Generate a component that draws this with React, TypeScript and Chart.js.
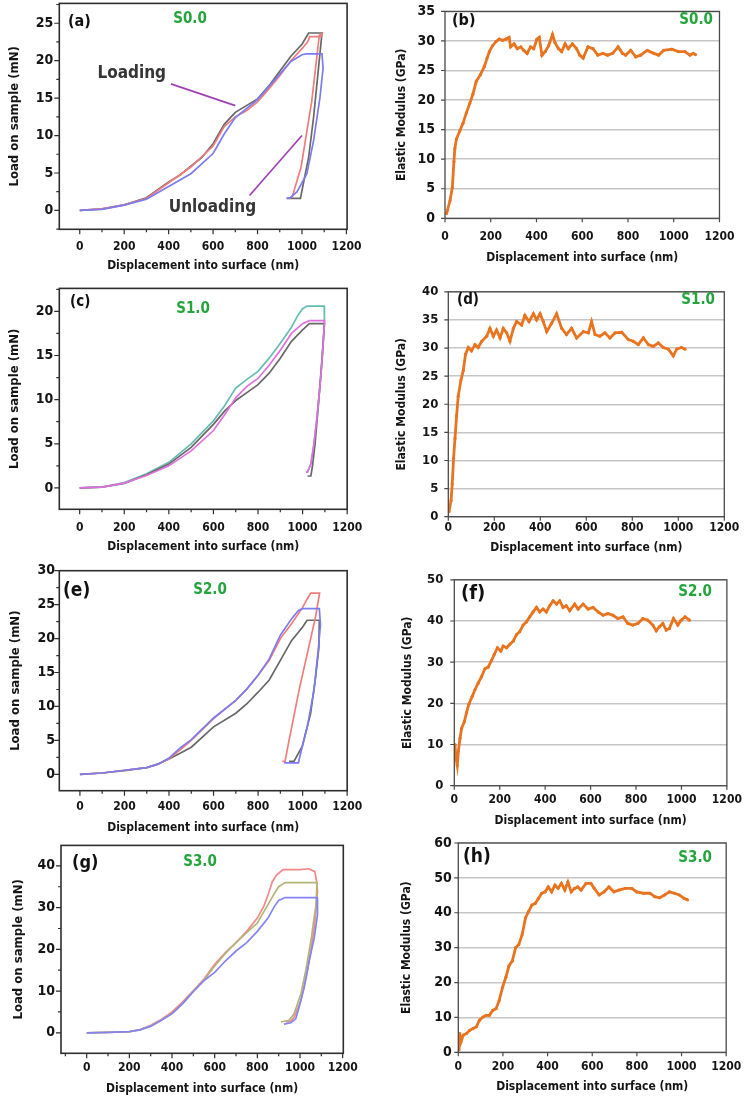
import { useEffect, useRef } from "react";
import { Chart, registerables } from "chart.js";

Chart.register(...registerables);

const FONT = '"DejaVu Sans Condensed", "DejaVu Sans", sans-serif';
const TEXT = "#151515";
const GREEN = "#23a53c";
const ORANGE = "#e9741f";
const PURPLE = "#a040b4";
const PAGE_W = 749;

// ---------- shared axis text ----------
const X_TICKS = [0, 200, 400, 600, 800, 1000, 1200];
const X_TITLE = "Displacement into surface (nm)";
const LOAD_TITLE = "Load on sample (mN)";
const MOD_TITLE = "Elastic Modulus (GPa)";

const A_Y_TICKS = [0, 5, 10, 15, 20, 25];
const B_Y_TICKS = [0, 5, 10, 15, 20, 25, 30, 35];
const C_Y_TICKS = [0, 5, 10, 15, 20];
const D_Y_TICKS = [0, 5, 10, 15, 20, 25, 30, 35, 40];
const E_Y_TICKS = [0, 5, 10, 15, 20, 25, 30];
const F_Y_TICKS = [0, 10, 20, 30, 40, 50];
const G_Y_TICKS = [0, 10, 20, 30, 40];
const H_Y_TICKS = [0, 10, 20, 30, 40, 50, 60];

// ---------- (a) S0.0 load-displacement ----------
const A_GRAY_X = [0, 100, 200, 300, 400, 450, 500, 550, 600, 650, 700, 750, 800, 850, 900, 950, 1000, 1030, 1090, 1070, 1052, 1030, 993, 932];
const A_GRAY_Y = [0, 0.2, 0.75, 1.7, 3.8, 4.7, 5.9, 7.1, 8.9, 11.5, 13.1, 14.0, 14.9, 16.6, 18.6, 20.6, 22.2, 23.7, 23.7, 17.7, 12.4, 7.1, 1.6, 1.6];
const A_RED_X = [0, 100, 200, 300, 400, 500, 600, 650, 700, 750, 800, 850, 900, 950, 1000, 1025, 1035, 1085, 1090, 1078, 1044, 996, 956, 940];
const A_RED_Y = [0, 0.2, 0.75, 1.6, 3.7, 5.8, 8.6, 11.2, 12.5, 13.3, 14.5, 16.2, 18.0, 20.0, 21.6, 22.5, 23.2, 23.2, 23.6, 23.4, 14.6, 5.8, 1.8, 1.6];
const A_BLUE_X = [0, 100, 200, 300, 400, 500, 600, 650, 700, 800, 900, 950, 1000, 1020, 1090, 1095, 1081, 1052, 1022, 978, 948, 930];
const A_BLUE_Y = [0, 0.15, 0.7, 1.5, 3.2, 4.9, 7.6, 10.2, 12.4, 14.8, 18.2, 19.9, 20.8, 20.9, 20.9, 19.0, 15.1, 9.3, 4.9, 2.5, 1.7, 1.6];
const A_LOADING_PTR_X = [410, 700];
const A_LOADING_PTR_Y = [16.9, 14.0];
const A_UNLOADING_PTR_X = [764, 1000];
const A_UNLOADING_PTR_Y = [2.0, 10.0];

// ---------- (b) S0.0 modulus ----------
const B_X = [7, 11, 22, 32, 39, 43, 50, 65, 79, 93, 108, 122, 137, 155, 172, 184, 194, 208, 223, 237, 252, 266, 280, 287, 302, 316, 331, 345, 359, 374, 388, 402, 412, 424, 438, 453, 470, 481, 496, 510, 525, 539, 557, 575, 589, 604, 625, 647, 668, 690, 711, 733, 757, 776, 790, 812, 834, 855, 884, 913, 934, 956, 992, 1020, 1049, 1071, 1085, 1095];
const B_Y = [0.8, 1.4, 3.0, 5.2, 9.6, 11.8, 13.4, 14.8, 16.1, 17.8, 19.4, 21.0, 23.2, 24.3, 25.7, 27.1, 28.2, 29.2, 29.9, 30.3, 30.1, 30.3, 30.6, 29.0, 29.5, 28.7, 29.0, 28.4, 27.9, 29.0, 28.7, 30.3, 30.6, 27.6, 28.2, 29.2, 31.1, 29.7, 28.7, 28.2, 29.5, 28.7, 29.5, 28.7, 27.6, 27.1, 29.0, 28.7, 27.6, 27.9, 27.6, 27.9, 29.0, 27.9, 27.6, 28.4, 27.3, 27.6, 28.4, 27.9, 27.6, 28.4, 28.6, 28.2, 28.2, 27.6, 27.9, 27.7];

// ---------- (c) S1.0 load-displacement ----------
const C_TEAL_X = [0, 100, 200, 300, 400, 500, 600, 650, 700, 750, 800, 850, 900, 950, 980, 1000, 1020, 1097, 1098, 1091, 1081, 1066, 1051, 1037, 1022, 1018];
const C_TEAL_Y = [0, 0.1, 0.6, 1.6, 2.9, 5.0, 7.6, 9.3, 11.3, 12.3, 13.2, 14.7, 16.4, 18.2, 19.6, 20.3, 20.6, 20.6, 18.8, 15.8, 12.4, 8.3, 5.0, 2.7, 1.8, 1.8];
const C_MAGENTA_X = [0, 100, 200, 300, 400, 500, 600, 650, 700, 750, 800, 850, 900, 950, 1000, 1030, 1098, 1098, 1091, 1081, 1066, 1051, 1037, 1022, 1015];
const C_MAGENTA_Y = [0, 0.1, 0.55, 1.4, 2.5, 4.2, 6.5, 8.3, 10.2, 11.5, 12.4, 13.9, 15.6, 17.5, 18.6, 18.95, 18.95, 18.8, 15.8, 12.4, 8.3, 5.0, 2.7, 1.8, 1.8];
const C_GRAY_X = [0, 100, 200, 300, 400, 500, 600, 650, 700, 750, 800, 850, 900, 950, 1000, 1030, 1098, 1085, 1071, 1056, 1044, 1037, 1022];
const C_GRAY_Y = [0, 0.1, 0.5, 1.5, 2.7, 4.6, 7.2, 8.7, 9.9, 10.8, 11.7, 13.0, 14.7, 16.6, 17.9, 18.6, 18.6, 13.9, 9.5, 5.0, 2.4, 1.35, 1.35];

// ---------- (d) S1.0 modulus ----------
const D_X = [3, 12, 17, 23, 29, 36, 43, 55, 65, 75, 87, 101, 116, 130, 145, 167, 181, 196, 210, 225, 239, 254, 268, 283, 297, 319, 333, 351, 370, 384, 399, 413, 428, 449, 471, 493, 514, 536, 558, 587, 609, 623, 638, 659, 681, 703, 725, 754, 783, 804, 826, 848, 870, 891, 913, 935, 957, 978, 993, 1014, 1029];
const D_Y = [0.9, 2.9, 5.8, 10.4, 13.9, 17.9, 21.4, 24.3, 26.0, 28.9, 30.1, 29.5, 30.6, 30.1, 31.2, 32.1, 33.5, 32.1, 33.2, 31.8, 33.5, 32.7, 31.2, 33.5, 34.7, 34.1, 35.8, 34.7, 36.1, 35.0, 36.1, 34.7, 32.9, 34.4, 36.1, 33.5, 32.4, 33.5, 31.8, 32.9, 32.7, 34.7, 32.4, 32.1, 32.7, 31.8, 32.7, 32.8, 31.5, 31.2, 30.6, 31.8, 30.6, 30.3, 30.9, 30.1, 29.8, 28.6, 29.8, 30.1, 29.8];

// ---------- (e) S2.0 load-displacement ----------
const E_RED_X = [0, 100, 200, 300, 350, 400, 450, 500, 600, 700, 750, 800, 850, 900, 950, 1000, 1020, 1036, 1076, 1058, 984, 939, 921, 909];
const E_RED_Y = [0, 0.2, 0.6, 1.0, 1.5, 2.3, 3.6, 5.0, 8.2, 10.9, 12.6, 14.6, 16.8, 20.0, 22.2, 24.6, 25.8, 26.7, 26.7, 23.2, 12.4, 5.0, 1.9, 1.9];
const E_BLUE_X = [0, 100, 200, 300, 350, 400, 450, 500, 600, 700, 750, 800, 850, 900, 950, 980, 1000, 1075, 1080, 1070, 1051, 1021, 991, 981, 917];
const E_BLUE_Y = [0, 0.2, 0.6, 1.0, 1.5, 2.4, 3.9, 5.1, 8.3, 10.9, 12.6, 14.6, 17.0, 20.5, 22.9, 24.1, 24.4, 24.4, 22.0, 18.3, 12.4, 7.0, 3.1, 1.7, 1.7];
const E_GRAY_X = [0, 100, 200, 300, 350, 400, 450, 500, 600, 700, 750, 800, 850, 900, 950, 1000, 1020, 1075, 1073, 1058, 1036, 998, 961, 939];
const E_GRAY_Y = [0, 0.2, 0.55, 1.0, 1.5, 2.25, 3.1, 4.0, 7.0, 9.0, 10.4, 12.1, 13.9, 16.8, 19.7, 21.7, 22.7, 22.7, 18.7, 14.3, 9.0, 4.1, 1.9, 1.9];

// ---------- (f) S2.0 modulus ----------
const F_X = [3, 7, 13, 18, 25, 32, 44, 54, 64, 79, 91, 105, 120, 135, 149, 164, 176, 190, 205, 215, 230, 244, 259, 274, 288, 303, 318, 332, 347, 362, 376, 391, 405, 420, 435, 450, 464, 479, 493, 508, 530, 545, 567, 589, 611, 633, 655, 676, 698, 720, 743, 764, 786, 808, 830, 852, 874, 889, 903, 918, 933, 947, 965, 984, 999, 1016, 1035];
const F_Y = [10, 6.8, 4.9, 8.4, 11.5, 13.9, 15.5, 17.8, 19.8, 21.7, 23.3, 24.9, 26.5, 28.4, 28.8, 30.4, 31.9, 33.5, 32.7, 33.9, 33.5, 34.3, 35.1, 36.7, 37.4, 39.0, 39.8, 41.0, 42.2, 43.3, 42.2, 42.9, 42.2, 43.7, 44.9, 44.1, 44.9, 43.3, 43.7, 42.5, 44.1, 42.9, 44.1, 42.9, 43.3, 42.2, 41.4, 41.8, 41.4, 40.6, 41.0, 39.4, 39.0, 39.4, 40.6, 40.2, 39.0, 37.6, 38.6, 39.4, 37.8, 38.2, 40.6, 39.0, 40.2, 41.0, 40.2];

// ---------- (g) S3.0 load-displacement ----------
const G_RED_X = [0, 100, 200, 250, 300, 350, 400, 450, 500, 550, 600, 650, 700, 750, 800, 830, 850, 870, 890, 920, 1000, 1040, 1070, 1078, 1082, 1067, 1035, 1004, 973, 957, 933];
const G_RED_Y = [0, 0.1, 0.3, 0.8, 1.8, 3.2, 5.0, 7.4, 10.1, 12.9, 16.4, 19.2, 21.6, 24.3, 27.5, 30.3, 33.0, 36.2, 37.8, 39.1, 39.1, 39.3, 38.6, 36.2, 33.8, 25.1, 14.9, 7.7, 3.8, 2.8, 2.6];
const G_OLIVE_X = [0, 100, 200, 250, 300, 350, 400, 450, 500, 550, 600, 650, 700, 750, 800, 850, 880, 900, 930, 1080, 1075, 1051, 1027, 1004, 973, 949, 910];
const G_OLIVE_Y = [0, 0.1, 0.3, 0.7, 1.6, 3.0, 4.6, 7.0, 9.9, 12.6, 16.0, 19.0, 21.6, 24.0, 26.3, 30.7, 33.4, 35.0, 36.0, 36.0, 30.7, 22.0, 14.9, 9.3, 4.6, 3.0, 2.6];
const G_BLUE_X = [0, 100, 200, 250, 300, 350, 400, 450, 500, 550, 600, 650, 700, 750, 800, 850, 880, 900, 930, 1080, 1082, 1067, 1043, 1020, 996, 980, 957, 925];
const G_BLUE_Y = [0, 0.1, 0.3, 0.7, 1.6, 3.0, 4.6, 7.0, 9.9, 12.5, 14.5, 17.2, 19.6, 21.6, 24.3, 27.5, 30.3, 31.7, 32.4, 32.4, 28.3, 22.8, 17.2, 10.9, 6.2, 3.4, 2.4, 2.1];

// ---------- (h) S3.0 modulus ----------
const H_X = [3, 6, 12, 22, 37, 51, 66, 81, 95, 110, 125, 139, 154, 169, 183, 198, 213, 227, 242, 257, 271, 286, 301, 315, 330, 345, 359, 374, 389, 403, 418, 433, 447, 462, 477, 491, 506, 521, 535, 550, 572, 594, 609, 631, 653, 675, 697, 719, 748, 777, 799, 829, 858, 880, 902, 924, 946, 968, 990, 1012, 1027];
const H_Y = [0.7, 5.4, 3.0, 4.9, 5.4, 6.3, 6.8, 7.3, 9.2, 10.1, 10.6, 10.6, 12.0, 12.5, 14.8, 18.6, 21.5, 24.8, 26.2, 30.0, 30.9, 33.7, 38.5, 40.4, 42.2, 42.7, 44.1, 45.6, 46.0, 47.4, 46.0, 47.9, 47.0, 48.4, 46.5, 48.8, 46.0, 47.0, 47.4, 46.5, 48.4, 48.4, 47.0, 45.1, 46.0, 47.4, 46.0, 46.5, 47.0, 47.0, 46.0, 45.6, 45.6, 44.6, 44.3, 45.1, 46.0, 45.6, 45.1, 44.1, 43.7];

// ---------- panel configuration ----------
type Line = { xs: number[]; ys: number[]; color: string; width?: number; dots?: boolean };
type Note = { text: string; x: number; y: number };
type Panel = {
  id: string;
  style: "origin" | "excel";
  left: number;
  L: number; T: number; R: number; B: number;
  xMin: number; xMax: number; yMin: number; yMax: number; yTicks: number[];
  yTitle: string; yTitleFont: number; yTitleX: number;
  yTickFont: number; yTickRight: number;
  xTickFont: number; xTickY: number; xTitleFont: number; xTitleY: number;
  tag: string; tagFont: number; tagX: number; tagY: number;
  sample: string; sampleFont: number; sampleX: number; sampleY: number; sampleAlign: "center" | "right";
  lines: Line[];
  notes?: Note[];
};

const GRAY = "#686868";
const RED = "#f07c7c";
const BLUE = "#7c7cf0";

const PANELS: Panel[] = [
  {
    id: "a", style: "origin", left: 0,
    L: 59.3, T: 1.7, R: 350, B: 229.3,
    xMin: -92, xMax: 1203, yMin: -2.52, yMax: 27.65, yTicks: A_Y_TICKS,
    yTitle: LOAD_TITLE, yTitleFont: 13, yTitleX: 15,
    yTickFont: 14, yTickRight: 53.3,
    xTickFont: 12, xTickY: 247, xTitleFont: 12, xTitleY: 266,
    tag: "(a)", tagFont: 16, tagX: 68, tagY: 22,
    sample: "S0.0", sampleFont: 15, sampleX: 190, sampleY: 19, sampleAlign: "center",
    lines: [
      { xs: A_BLUE_X, ys: A_BLUE_Y, color: BLUE },
      { xs: A_RED_X, ys: A_RED_Y, color: RED },
      { xs: A_GRAY_X, ys: A_GRAY_Y, color: GRAY },
      { xs: A_LOADING_PTR_X, ys: A_LOADING_PTR_Y, color: PURPLE },
      { xs: A_UNLOADING_PTR_X, ys: A_UNLOADING_PTR_Y, color: PURPLE },
    ],
    notes: [
      { text: "Loading", x: 234, y: 18.3 },
      { text: "Unloading", x: 597, y: 0.44 },
    ],
  },
  {
    id: "b", style: "excel", left: 378,
    L: 445, T: 5, R: 723.3, B: 218.3,
    xMin: 0, xMax: 1200, yMin: 0, yMax: 35, yTicks: B_Y_TICKS,
    yTitle: MOD_TITLE, yTitleFont: 12, yTitleX: 402,
    yTickFont: 14, yTickRight: 435,
    xTickFont: 12, xTickY: 237, xTitleFont: 12, xTitleY: 258,
    tag: "(b)", tagFont: 16, tagX: 452, tagY: 20.7,
    sample: "S0.0", sampleFont: 15, sampleX: 713, sampleY: 20, sampleAlign: "right",
    lines: [{ xs: B_X, ys: B_Y, color: ORANGE, width: 2.8, dots: true }],
  },
  {
    id: "c", style: "origin", left: 0,
    L: 59.3, T: 286, R: 351.7, B: 509.3,
    xMin: -91.4, xMax: 1200, yMin: -2.42, yMax: 22.6, yTicks: C_Y_TICKS,
    yTitle: LOAD_TITLE, yTitleFont: 13, yTitleX: 15,
    yTickFont: 14, yTickRight: 53.3,
    xTickFont: 12, xTickY: 528.3, xTitleFont: 12, xTitleY: 547,
    tag: "(c)", tagFont: 15, tagX: 70, tagY: 301.7,
    sample: "S1.0", sampleFont: 15, sampleX: 193, sampleY: 309.3, sampleAlign: "center",
    lines: [
      { xs: C_MAGENTA_X, ys: C_MAGENTA_Y, color: "#e070e0" },
      { xs: C_GRAY_X, ys: C_GRAY_Y, color: GRAY },
      { xs: C_TEAL_X, ys: C_TEAL_Y, color: "#66bcb2" },
    ],
  },
  {
    id: "d", style: "excel", left: 378,
    L: 448.3, T: 286, R: 724.3, B: 516.7,
    xMin: 0, xMax: 1200, yMin: 0, yMax: 40, yTicks: D_Y_TICKS,
    yTitle: MOD_TITLE, yTitleFont: 12, yTitleX: 401.7,
    yTickFont: 13, yTickRight: 438.3,
    xTickFont: 12, xTickY: 528.3, xTitleFont: 12, xTitleY: 548,
    tag: "(d)", tagFont: 15, tagX: 457, tagY: 300,
    sample: "S1.0", sampleFont: 15, sampleX: 715, sampleY: 300, sampleAlign: "right",
    lines: [{ xs: D_X, ys: D_Y, color: ORANGE, width: 2.8, dots: true }],
  },
  {
    id: "e", style: "origin", left: 0,
    L: 59.3, T: 570, R: 348.3, B: 790.7,
    xMin: -92.6, xMax: 1200, yMin: -2.41, yMax: 30, yTicks: E_Y_TICKS,
    yTitle: LOAD_TITLE, yTitleFont: 13, yTitleX: 16,
    yTickFont: 14, yTickRight: 55,
    xTickFont: 12, xTickY: 806.7, xTitleFont: 12, xTitleY: 827.3,
    tag: "(e)", tagFont: 19, tagX: 63, tagY: 590.7,
    sample: "S2.0", sampleFont: 15, sampleX: 210, sampleY: 590, sampleAlign: "center",
    lines: [
      { xs: E_BLUE_X, ys: E_BLUE_Y, color: BLUE },
      { xs: E_RED_X, ys: E_RED_Y, color: RED },
      { xs: E_GRAY_X, ys: E_GRAY_Y, color: GRAY },
    ],
  },
  {
    id: "f", style: "excel", left: 378,
    L: 454.3, T: 573.3, R: 727.7, B: 785.7,
    xMin: 0, xMax: 1200, yMin: 0, yMax: 50, yTicks: F_Y_TICKS,
    yTitle: MOD_TITLE, yTitleFont: 12, yTitleX: 408.3,
    yTickFont: 13, yTickRight: 443.3,
    xTickFont: 12, xTickY: 800, xTitleFont: 12, xTitleY: 821,
    tag: "(f)", tagFont: 20, tagX: 461, tagY: 593.3,
    sample: "S2.0", sampleFont: 15, sampleX: 712, sampleY: 592.3, sampleAlign: "right",
    lines: [{ xs: F_X, ys: F_Y, color: ORANGE, width: 2.8, dots: true }],
  },
  {
    id: "g", style: "origin", left: 0,
    L: 61, T: 843.3, R: 343.3, B: 1053.3,
    xMin: -120.5, xMax: 1203, yMin: -4.9, yMax: 44.9, yTicks: G_Y_TICKS,
    yTitle: LOAD_TITLE, yTitleFont: 13, yTitleX: 18.3,
    yTickFont: 14, yTickRight: 55,
    xTickFont: 12, xTickY: 1068.3, xTitleFont: 12, xTitleY: 1088.3,
    tag: "(g)", tagFont: 18, tagX: 72, tagY: 863.3,
    sample: "S3.0", sampleFont: 15, sampleX: 200, sampleY: 861.7, sampleAlign: "center",
    lines: [
      { xs: G_BLUE_X, ys: G_BLUE_Y, color: "#8484f2" },
      { xs: G_OLIVE_X, ys: G_OLIVE_Y, color: "#b3b477" },
      { xs: G_RED_X, ys: G_RED_Y, color: "#f28888" },
    ],
  },
  {
    id: "h", style: "excel", left: 378,
    L: 458.3, T: 840.7, R: 731, B: 1052.3,
    xMin: 0, xMax: 1200, yMin: 0, yMax: 60, yTicks: H_Y_TICKS,
    yTitle: MOD_TITLE, yTitleFont: 12, yTitleX: 406.7,
    yTickFont: 14, yTickRight: 451.7,
    xTickFont: 12, xTickY: 1067.3, xTitleFont: 12, xTitleY: 1086.7,
    tag: "(h)", tagFont: 19, tagX: 463, tagY: 856.7,
    sample: "S3.0", sampleFont: 15, sampleX: 712, sampleY: 858.3, sampleAlign: "right",
    lines: [{ xs: H_X, ys: H_Y, color: ORANGE, width: 2.8, dots: true }],
  },
];

function minorOf(ticks: number[], min: number, max: number): number[] {
  const out: number[] = [];
  const step = ticks[1] - ticks[0];
  const cands = [ticks[0] - step / 2, ...ticks.map((t) => t + step / 2)];
  for (const v of cands) if (v >= min && v <= max) out.push(v);
  return out;
}

function geometry(p: Panel) {
  const top = Math.floor(p.T - 12);
  const right = Math.min(Math.ceil(p.R + 22), PAGE_W);
  const width = right - p.left;
  const height = Math.round(p.xTitleY + (p.xTitleFont * 1.2) / 2 - top);
  return { top, width, height };
}

function PanelView({ p }: { p: Panel }) {
  const ref = useRef<HTMLCanvasElement | null>(null);
  const { top, width, height } = geometry(p);

  useEffect(() => {
    const canvas = ref.current;
    if (!canvas) return;
    const origin = p.style === "origin";
    const padTop = p.T - top;
    const padRight = width - (p.R - p.left);
    const yAxisW = p.L - p.left;
    const xAxisH = height - (p.B - top);
    const xTickPad = p.xTickY - p.B - (p.xTickFont * 1.2) / 2;
    const yTickPad = p.L - p.yTickRight;
    const yTitlePad = p.yTitleX - p.left - (p.yTitleFont * 1.2) / 2;
    const xMinor = origin ? minorOf(X_TICKS, p.xMin, p.xMax) : [];
    const yMinor = origin ? minorOf(p.yTicks, p.yMin, p.yMax) : [];

    const decor = {
      id: "decor_" + p.id,
      afterDraw(chart: any) {
        const ctx = chart.ctx as CanvasRenderingContext2D;
        const a = chart.chartArea;
        const xs = chart.scales.x;
        const ys = chart.scales.y;
        ctx.save();
        // frame
        ctx.strokeStyle = origin ? "#2e2e2e" : "#4a4a4a";
        ctx.lineWidth = origin ? 1.6 : 1.3;
        ctx.strokeRect(a.left, a.top, a.right - a.left, a.bottom - a.top);
        // tick marks
        const major = origin ? 5 : 4;
        const minor = 3;
        ctx.lineWidth = 1.2;
        ctx.beginPath();
        for (const v of X_TICKS) {
          const px = xs.getPixelForValue(v);
          ctx.moveTo(px, a.bottom);
          ctx.lineTo(px, a.bottom + major);
        }
        for (const v of xMinor) {
          const px = xs.getPixelForValue(v);
          ctx.moveTo(px, a.bottom);
          ctx.lineTo(px, a.bottom + minor);
        }
        for (const v of p.yTicks) {
          const py = ys.getPixelForValue(v);
          ctx.moveTo(a.left, py);
          ctx.lineTo(a.left - major, py);
        }
        for (const v of yMinor) {
          const py = ys.getPixelForValue(v);
          ctx.moveTo(a.left, py);
          ctx.lineTo(a.left - minor, py);
        }
        ctx.stroke();
        // annotations in data coordinates
        ctx.textBaseline = "middle";
        if (p.notes) {
          ctx.fillStyle = "#363636";
          ctx.font = `bold 17px ${FONT}`;
          ctx.textAlign = "center";
          for (const n of p.notes) {
            ctx.fillText(n.text, xs.getPixelForValue(n.x), ys.getPixelForValue(n.y));
          }
        }
        // panel tag and sample name
        ctx.fillStyle = "#111";
        ctx.textAlign = "left";
        ctx.font = `bold ${p.tagFont}px ${FONT}`;
        ctx.fillText(p.tag, p.tagX - p.left, p.tagY - top);
        ctx.fillStyle = GREEN;
        ctx.textAlign = p.sampleAlign;
        ctx.font = `bold ${p.sampleFont}px ${FONT}`;
        ctx.fillText(p.sample, p.sampleX - p.left, p.sampleY - top);
        ctx.restore();
      },
    };

    const datasets = p.lines.map((l) => ({
      data: l.xs.map((x, i) => ({ x, y: l.ys[i] })),
      borderColor: l.color,
      backgroundColor: l.color,
      borderWidth: l.width ?? 1.7,
      pointRadius: l.dots ? 1.6 : 0,
      pointBorderWidth: 0,
      pointHoverRadius: 0,
      showLine: true,
      fill: false,
      tension: 0,
    }));

    const tickFont = (size: number) => ({ family: FONT, size, weight: "bold" as const });

    const chart = new Chart(canvas, {
      type: "scatter",
      data: { datasets },
      options: {
        responsive: false,
        animation: false,
        events: [],
        layout: { padding: { left: 0, top: padTop, right: padRight, bottom: 0 } },
        plugins: { legend: { display: false }, tooltip: { enabled: false } },
        scales: {
          x: {
            type: "linear",
            min: p.xMin,
            max: p.xMax,
            afterBuildTicks: (s: any) => {
              s.ticks = X_TICKS.map((v) => ({ value: v }));
            },
            afterFit: (s: any) => {
              s.height = xAxisH;
            },
            grid: { display: false, drawTicks: false },
            border: { display: false },
            ticks: {
              font: tickFont(p.xTickFont),
              color: TEXT,
              padding: xTickPad,
              maxRotation: 0,
              autoSkip: false,
              callback: (v: any) => String(v),
            },
            title: {
              display: true,
              text: X_TITLE,
              color: TEXT,
              font: tickFont(p.xTitleFont),
              padding: { top: 0, bottom: 0 },
            },
          },
          y: {
            type: "linear",
            min: p.yMin,
            max: p.yMax,
            afterBuildTicks: (s: any) => {
              s.ticks = p.yTicks.map((v) => ({ value: v }));
            },
            afterFit: (s: any) => {
              s.width = yAxisW;
            },
            grid: origin
              ? { display: false, drawTicks: false }
              : { display: true, drawTicks: false, drawOnChartArea: true, color: "#c6c6c6", lineWidth: 1.5 },
            border: { display: false },
            ticks: {
              font: tickFont(p.yTickFont),
              color: TEXT,
              padding: yTickPad,
              autoSkip: false,
              callback: (v: any) => String(v),
            },
            title: {
              display: true,
              text: p.yTitle,
              color: TEXT,
              font: tickFont(p.yTitleFont),
              padding: { top: yTitlePad, bottom: 0 },
            },
          },
        },
      },
      plugins: [decor],
    } as any);
    return () => chart.destroy();
  }, []);

  return (
    <canvas
      ref={ref}
      width={width}
      height={height}
      style={{ position: "absolute", left: p.left, top, width, height }}
    />
  );
}

export default function App() {
  return (
    <div
      style={{
        position: "absolute",
        left: 0,
        top: 0,
        width: PAGE_W,
        height: 1098,
        overflow: "hidden",
        background: "#fff",
      }}
    >
      {PANELS.map((p) => (
        <PanelView key={p.id} p={p} />
      ))}
    </div>
  );
}
